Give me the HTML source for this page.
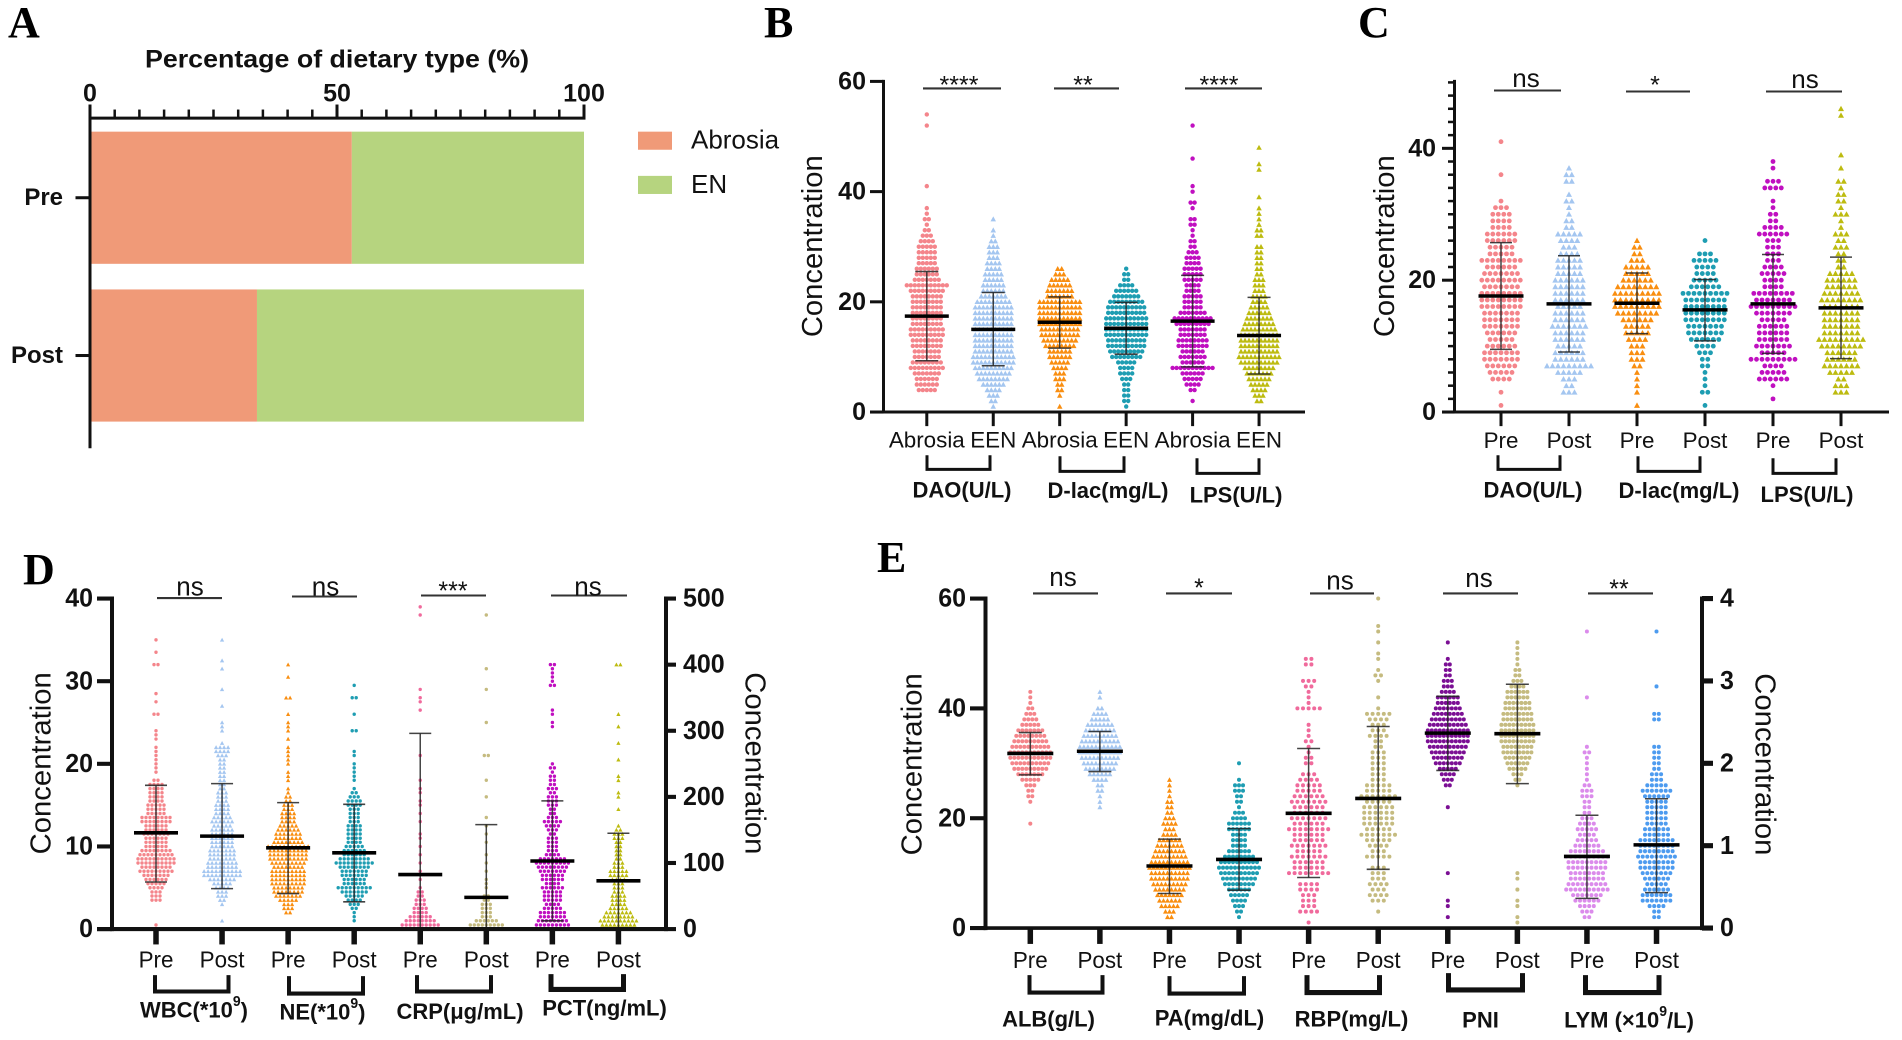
<!DOCTYPE html>
<html lang="en">
<head>
<meta charset="utf-8">
<title>Dietary type and biomarker concentration panels</title>
<style>
html,body{margin:0;padding:0;background:#fff;}
svg{display:block;font-family:"Liberation Sans",Arial,sans-serif;fill:#111;}
.pl{font-family:"Liberation Serif",serif;font-weight:700;font-size:44px;fill:#000;}
.gl{font-weight:700;font-size:22px;text-anchor:middle;dominant-baseline:central;}
.yt{font-size:29px;text-anchor:middle;dominant-baseline:central;}
.ns{font-size:26px;text-anchor:middle;dominant-baseline:central;}
.st{font-size:25px;text-anchor:middle;dominant-baseline:central;}
.br{fill:none;stroke:#111;}
.sb{stroke:#333;stroke-width:2;}
</style>
</head>
<body>
<svg id="figure" xmlns="http://www.w3.org/2000/svg" width="1902" height="1040" viewBox="0 0 1902 1040">
<rect width="1902" height="1040" fill="#fff"/>

<text class="pl" x="8" y="37">A</text>
<text class="pl" x="764" y="37">B</text>
<text class="pl" x="1358" y="37">C</text>
<text class="pl" x="23" y="584">D</text>
<text class="pl" x="877" y="572">E</text>

<g id="top-layer" transform="scale(1 1.005)">
<text x="337" y="59" font-weight="700" font-size="25" text-anchor="middle" dominant-baseline="central" textLength="384" lengthAdjust="spacingAndGlyphs">Percentage of dietary type (%)</text>
<g>
<rect x="638" y="131" width="34" height="18" fill="#F09A78"/>
<text x="691" y="139" font-size="26" dominant-baseline="central">Abrosia</text>
<rect x="638" y="175" width="34" height="18" fill="#B6D47F"/>
<text x="691" y="183" font-size="26" dominant-baseline="central">EN</text>
</g>

<g>
<text class="yt" transform="translate(813,245) rotate(-90)" textLength="181" lengthAdjust="spacingAndGlyphs">Concentration</text>
<line class="sb" x1="923" x2="1001" y1="88" y2="88"/>
<line class="sb" x1="1054" x2="1119" y1="88" y2="88"/>
<line class="sb" x1="1185" x2="1262" y1="88" y2="88"/>
<text class="st" x="959" y="85">****</text>
<text class="st" x="1083" y="85">**</text>
<text class="st" x="1219" y="85">****</text>
<path class="br" stroke-width="3" d="M927 453V467H990V453"/>
<path class="br" stroke-width="3" d="M1060 454V469H1124V454"/>
<path class="br" stroke-width="3" d="M1197 456V471H1259V456"/>
<text class="gl" x="962" y="487.5">DAO(U/L)</text>
<text class="gl" x="1108" y="488" textLength="121" lengthAdjust="spacingAndGlyphs">D-lac(mg/L)</text>
<text class="gl" x="1236" y="492.5">LPS(U/L)</text>
</g>

<g>
<text class="yt" transform="translate(1385,245) rotate(-90)" textLength="181" lengthAdjust="spacingAndGlyphs">Concentration</text>
<line class="sb" x1="1494" x2="1561" y1="90" y2="90"/>
<line class="sb" x1="1626" x2="1690" y1="91" y2="91"/>
<line class="sb" x1="1766" x2="1842" y1="91" y2="91"/>
<text class="ns" x="1526" y="77.5">ns</text>
<text class="st" x="1655" y="85">*</text>
<text class="ns" x="1805" y="78.5">ns</text>
<path class="br" stroke-width="3" d="M1498 453V467H1560V453"/>
<path class="br" stroke-width="3" d="M1638 454V469H1700V454"/>
<path class="br" stroke-width="3" d="M1773 456V471H1836V456"/>
<text class="gl" x="1533" y="487.5">DAO(U/L)</text>
<text class="gl" x="1679" y="488" textLength="121" lengthAdjust="spacingAndGlyphs">D-lac(mg/L)</text>
<text class="gl" x="1807" y="492">LPS(U/L)</text>
</g>
</g>

<g id="bottom-layer" transform="translate(0 530) scale(1 1.0233) translate(0 -530)">
<g>
<text class="yt" font-size="28" transform="translate(41,758) rotate(-90)" textLength="178" lengthAdjust="spacingAndGlyphs">Concentration</text>
<text class="yt" font-size="28" transform="translate(755,758) rotate(90)" textLength="178" lengthAdjust="spacingAndGlyphs">Concentration</text>
<line class="sb" x1="157" x2="222" y1="596.5" y2="596.5"/>
<line class="sb" x1="292" x2="357" y1="595" y2="595"/>
<line class="sb" x1="421" x2="486" y1="594" y2="594"/>
<line class="sb" x1="551" x2="627" y1="594" y2="594"/>
<text class="ns" x="190" y="585">ns</text>
<text class="ns" x="325.5" y="585">ns</text>
<text class="st" x="453" y="590">***</text>
<text class="ns" x="588" y="585">ns</text>
<path class="br" stroke-width="4" d="M155 965V981H228.500V965"/>
<path class="br" stroke-width="4" d="M289 966V983H363V966"/>
<path class="br" stroke-width="4" d="M417 965V981H491V965"/>
<path class="br" stroke-width="5" d="M551 964V979H623.500V964"/>
<text class="gl" x="194" y="999">WBC(*10<tspan font-size="14" dy="-8">9</tspan><tspan dy="8">)</tspan></text>
<text class="gl" x="322.500" y="1001">NE(*10<tspan font-size="14" dy="-8">9</tspan><tspan dy="8">)</tspan></text>
<text class="gl" x="460" y="1000.500">CRP(μg/mL)</text>
<text class="gl" x="604.500" y="997">PCT(ng/mL)</text>
</g>

<g>
<text class="yt" font-size="28" transform="translate(912,759) rotate(-90)" textLength="178" lengthAdjust="spacingAndGlyphs">Concentration</text>
<text class="yt" font-size="28" transform="translate(1765,759) rotate(90)" textLength="178" lengthAdjust="spacingAndGlyphs">Concentration</text>
<line class="sb" x1="1033" x2="1098" y1="592" y2="592"/>
<line class="sb" x1="1166" x2="1232" y1="592" y2="592"/>
<line class="sb" x1="1310" x2="1374" y1="592" y2="592"/>
<line class="sb" x1="1443" x2="1518" y1="592" y2="592"/>
<line class="sb" x1="1588" x2="1653" y1="592" y2="592"/>
<text class="ns" x="1063" y="576">ns</text>
<text class="st" x="1199" y="587">*</text>
<text class="ns" x="1340" y="579.500">ns</text>
<text class="ns" x="1479" y="577">ns</text>
<text class="st" x="1619" y="588">**</text>
<path class="br" stroke-width="4" d="M1029.500 965V982H1102.500V965"/>
<path class="br" stroke-width="4" d="M1169.500 966V983H1244V966"/>
<path class="br" stroke-width="5" d="M1307 965V982H1379.500V965"/>
<path class="br" stroke-width="5" d="M1448.500 963V979.500H1522.500V963"/>
<path class="br" stroke-width="5" d="M1585.500 965V982H1659V965"/>
<text class="gl" x="1048.500" y="1008">ALB(g/L)</text>
<text class="gl" x="1209.500" y="1007">PA(mg/dL)</text>
<text class="gl" x="1351.500" y="1008">RBP(mg/L)</text>
<text class="gl" x="1480.500" y="1009">PNI</text>
<text class="gl" x="1629" y="1009">LYM (×10<tspan font-size="14" dy="-8">9</tspan><tspan dy="8">/L)</tspan></text>
</g>
</g>
</svg>

<script>
/* ---------- Panel A data ---------- */
const aCategories = ['Pre', 'Post'];
const aAbrosia = [53, 33.8];
const aEn = [47, 66.2];
const aTickLabels = [0, 50, 100];
const aMinorTicks = [5, 10, 15, 20, 25, 30, 35, 40, 45, 55, 60, 65, 70, 75, 80, 85, 90, 95];

/* ---------- Panel B data (dot counts per 1-unit level, starting at 0) ---------- */
const bCategories = ['Abrosia', 'EEN', 'Abrosia', 'EEN', 'Abrosia', 'EEN'];
const bMeans = [17.4, 15.0, 16.3, 15.2, 16.5, 13.9];
const bUppers = [25.5, 21.7, 20.9, 19.9, 24.8, 20.8];
const bLowers = [9.3, 8.4, 11.6, 10.5, 8.2, 6.9];
const bTicks = [0, 20, 40, 60];
const bDaoAbrosia = [0,0,0,0,5,6,6,7,9,8,7,7,8,8,9,9,8,8,8,8,8,8,9,11,7,6,6,5,5,5,5,4,3,2,1,2,1,1,0,0,0,1,0,0,0,0,0,0,0,0,0,0,1,0,1];
const bDaoEen = [0,1,2,3,4,6,8,9,10,11,11,10,10,10,10,10,10,10,10,10,9,7,6,6,5,5,4,4,3,3,3,2,1,1,0,1];
const bLacAbrosia = [0,1,0,1,2,2,3,3,4,5,6,6,8,9,10,10,11,11,11,11,11,7,7,6,5,3,2];
const bLacEen = [0,1,2,2,2,2,3,4,4,5,8,9,10,10,11,11,11,11,10,10,9,7,6,4,2,2,1];
const bLpsAbrosia = [0,0,1,0,2,4,5,6,11,6,7,6,8,8,7,7,9,10,7,5,5,5,4,4,5,5,5,4,4,3,2,2,1,1,2,2,0,1,2,0,1,1,0,0,0,0,1,0,0,0,0,0,1];
const bLpsEen = [0,0,2,3,4,5,6,7,8,10,11,10,10,10,10,9,8,7,6,5,4,4,3,3,3,2,2,2,2,2,2,0,2,2,1,1,1,1,0,1,0,0,0,0,1,1,0,0,1];

/* ---------- Panel C data (dot counts per 1-unit level) ---------- */
const cCategories = ['Pre', 'Post', 'Pre', 'Post', 'Pre', 'Post'];
const cMeans = [17.6, 16.4, 16.5, 15.5, 16.4, 15.8];
const cUppers = [25.7, 23.7, 21.1, 20.1, 23.9, 23.5];
const cLowers = [9.5, 9.1, 11.9, 10.8, 8.9, 8.1];
const cTicks = [0, 20, 40];
const cMinorTicks = [2,4,6,8,10,12,14,16,18,22,24,26,28,30,32,34,36,38,42,44,46,48,50];
const cDaoPre = [0,1,0,1,0,4,5,6,7,7,6,5,6,7,7,7,8,8,8,7,8,7,6,8,5,5,6,6,4,4,4,3,1,0,0,0,1,0,0,0,0,1];
const cDaoPost = [0,0,0,3,2,3,5,9,6,6,5,6,6,7,6,6,5,6,6,6,6,5,5,5,4,3,4,5,2,2,1,1,2,1,0,2,2,1];
const cLacPre = [0,1,0,1,1,1,1,2,3,3,3,4,5,5,6,8,9,9,9,8,6,5,5,3,2,2,1];
const cLacPost = [0,1,0,2,1,1,1,2,2,3,4,6,7,7,8,8,8,8,9,6,5,4,4,5,3,0,1];
const cLpsPre = [0,0,1,0,1,6,5,4,9,5,7,6,6,6,5,7,9,7,8,4,4,5,4,3,3,3,3,6,4,2,2,1,1,0,4,3,0,1,1];
const cLpsPost = [0,0,0,3,3,2,5,7,6,6,8,9,7,7,7,7,7,8,7,6,6,5,2,2,2,3,2,3,1,1,3,1,2,2,1,2,0,1,0,1,0,0,0,0,0,1,1];

/* ---------- Panel D data (counts per half-unit level + isolated values) ---------- */
const dCategories = ['Pre', 'Post', 'Pre', 'Post', 'Pre', 'Post', 'Pre', 'Post'];
const dMeans = [11.65, 11.25, 9.84, 9.23, 82.5, 48, 103, 73];
const dUppers = [17.4, 17.6, 15.3, 15.1, 296, 158, 194, 145];
const dLowers = [5.7, 4.9, 4.3, 3.3, 0, 0, 12.5, 0];
const dSides = ['left', 'left', 'left', 'left', 'right', 'right', 'right', 'right'];
const dLeftTicks = [0, 10, 20, 30, 40];
const dRightTicks = [0, 100, 200, 300, 400, 500];
const dWbcPre = [0,1,0,0,0,0,0,3,3,3,4,5,6,7,9,8,10,10,9,8,6,6,6,7,6,6,8,8,5,5,5,4,4,4,4,4,2];
const dWbcPreIsolated = [19,19.5,20,20.5,21,21.5,22,23,23.5,24,25.8,26,27.3,28.3,31.8,32,33.5,35];
const dWbcPost = [0,0,1,0,0,0,1,2,3,3,4,5,7,10,10,8,8,7,7,7,6,6,6,6,6,5,6,5,4,4,4,3,3,3,2,2,2,2,2,2,2,2,3,4,4,1];
const dWbcPostIsolated = [24,24.5,25,27,29,31.5,32.5,35];
const dNePre = [1,0,0,0,2,3,3,5,7,8,8,9,9,9,9,8,9,10,10,10,11,8,7,7,6,5,4,4,4,3,3,2,2,1,1];
const dNePreIsolated = [18,18.5,19,20,20.5,21,21.5,22,23,24,24.5,25,26,28,28,30.5,32];
const dNePost = [0,0,1,1,1,2,3,4,5,7,9,6,6,7,7,8,10,8,6,6,5,4,4,4,4,4,3,3,3,3,4,4,3,2,1];
const dNePostIsolated = [18,18.5,19,19.5,20,21,21.5,24,24.2,26,28,28.2,29.5];
const dCrpPre = [11,10,8,6,4,4,3,3,2,2];
const dCrpPreIsolated = [60,72,85,100,115,125,135,145,160,175,185,195,205,215,228,262,330,345,350,360,475,485];
const dCrpPost = [11,9,6,3,3,3,3,2,2];
const dCrpPostIsolated = [60,70,75,85,100,115,130,145,158,170,200,225,262,265,310,365,395,475];
const dPctPre = [8,9,8,7,7,5,4,5,5,5,6,4,6,6,7,8,9,7,4,3,3,3,3,2,3,4,5,3,2,2,3,3,3,2,3,2,2,2,1,2,1];
const dPctPreIsolated = [306,312,325,330,369,369,375,381,388,394,400,400];
const dPctPost = [8,9,10,8,7,5,4,4,4,3,3,3,4,5,5,3,3,2,2,2,2,2,3,3,2,1];
const dPctPostIsolated = [180,200,207,228,232,258,283,306,324,397,400];

/* ---------- Panel E data (dot counts per level) ---------- */
const eCategories = ['Pre', 'Post', 'Pre', 'Post', 'Pre', 'Post', 'Pre', 'Post', 'Pre', 'Post'];
const eMeans = [31.8, 32.2, 11.3, 12.5, 20.9, 23.6, 35.5, 35.4, 0.87, 1.01];
const eUppers = [35.6, 35.8, 16.2, 18.1, 32.7, 36.7, 42.2, 44.4, 1.37, 1.57];
const eLowers = [27.9, 28.5, 6.3, 6.9, 9.2, 10.7, 28.7, 26.3, 0.36, 0.43];
const eSides = ['left', 'left', 'left', 'left', 'left', 'left', 'left', 'left', 'right', 'right'];
const eLeftTicks = [0, 20, 40, 60];
const eRightTicks = [0, 1, 2, 3, 4];
const eAlbPre = [0,0,0,0,0,0,0,0,0,0,0,0,0,0,0,0,0,0,0,1,0,0,0,1,2,2,3,5,7,9,10,11,11,10,9,8,7,5,4,3,2,1,1,1];
const eAlbPost = [0,0,0,0,0,0,0,0,0,0,0,0,0,0,0,0,0,0,0,0,0,0,1,1,1,2,2,4,6,8,9,10,11,11,10,9,8,7,5,4,2,0,1,1];
const ePaPre = [0,0,2,3,5,6,7,8,9,10,10,11,10,9,8,7,6,4,3,4,3,2,2,2,1,1,1,1];
const ePaPost = [0,0,1,2,3,4,5,6,8,9,10,11,10,8,6,4,4,4,6,6,4,3,1,2,2,3,3,1,0,0,1];
const eRbpPre = [0,1,0,4,3,3,3,4,4,0,8,6,6,7,5,7,6,6,8,6,7,6,6,7,6,5,5,4,3,0,2,2,1,1,2,1,1,1,0,0,5,1,1,1,2,3,0,0,2,2];
const eRbpPost = [0,0,0,1,0,3,4,3,4,3,3,3,0,5,3,4,5,7,5,6,6,6,6,5,7,5,5,3,3,3,3,3,3,2,2,4,3,3,4,5,1,0,1,0,0,1,2,1,0,1,1,0,1,0,1,1,0,0,0,0,1];
const ePniPre = [0,0,1,0,1,1,0,0,0,0,1,0,0,0,0,0,0,0,0,0,0,0,1,0,0,0,2,3,4,5,7,8,9,10,11,11,11,10,9,8,7,6,6,4,3,3,2,2,2,1,0,0,1];
const ePniPost = [0,1,1,0,1,1,0,1,0,1,1,0,0,0,0,0,0,0,0,0,0,0,0,0,0,0,1,2,3,5,6,7,8,8,9,9,9,9,8,8,7,7,6,6,4,3,2,2,1,1,1,1,1];
const eLymPre = [0,0,2,3,4,6,7,10,9,8,8,9,9,10,8,6,5,4,5,4,3,2,2,2,3,3,2,1,1,1,1,1,2,1,0,0,0,0,0,0,0,0,1,0,0,0,0,0,0,0,0,0,0,0,1];
const eLymPost = [0,0,2,2,4,7,7,6,5,6,7,8,8,9,8,8,8,6,6,5,5,5,5,5,6,7,5,3,3,2,2,2,2,2,0,0,0,0,2,2,0,0,0,0,1,0,0,0,0,0,0,0,0,0,1];

/* ---------- Series palettes and markers ---------- */
const SALMON = '#F4858B', SKY = '#A4C6F0', ORANGE = '#F98E10', TEAL = '#1E9DB2', MAGENTA = '#C010C0', OLIVE = '#BDBB10', PINK = '#F06A9C', TAN = '#C5BB80', PURPLE = '#7B0F94', ORCHID = '#DB8BEB', AZURE = '#4D9BEF';
const commonColors = [SALMON, SKY, ORANGE, TEAL, MAGENTA, OLIVE];
const commonMarkers = ['circle', 'triangle', 'triangle', 'circle', 'circle', 'triangle'];

const NS = 'http://www.w3.org/2000/svg';
const topLayer = document.getElementById('top-layer');
const bottomLayer = document.getElementById('bottom-layer');

function make(tag, attrs, parent, text) {
  const el = document.createElementNS(NS, tag);
  for (const k in attrs) el.setAttribute(k, attrs[k]);
  if (text !== undefined) el.textContent = text;
  parent.appendChild(el);
  return el;
}
function linearScale(d0, r0, d1, r1) {
  return function (v) { return r0 + (v - d0) * (r1 - r0) / (d1 - d0); };
}

/* ---------- Panel A ---------- */
function drawPanelA() {
  const g = make('g', {}, topLayer);
  
  
  const x = linearScale(0, 90, 100, 584);
  const barTop = [131, 288];
  const barHeight = 131.5;
  aCategories.forEach(function (cat, i) {
    const a = make('rect', { x: x(0), y: barTop[i], width: x(aAbrosia[i]) - x(0), height: barHeight, fill: '#F09A78' }, g);
    
    
    const e = make('rect', { x: x(aAbrosia[i]), y: barTop[i], width: x(aAbrosia[i] + aEn[i]) - x(aAbrosia[i]), height: barHeight, fill: '#B6D47F' }, g);
    
    
    const cy = barTop[i] + barHeight / 2;
    const t = make('line', { x1: 75.5, x2: 90, y1: cy, y2: cy, stroke: '#111', 'stroke-width': 3 }, g);
    
    
    const l = make('text', { x: 63, y: cy, 'text-anchor': 'end', 'dominant-baseline': 'central', 'font-size': 24, 'font-weight': 700 }, g, cat);
    
    
  });
  const topAxis = make('line', { x1: 88.5, x2: 585.5, y1: 117.5, y2: 117.5, stroke: '#111', 'stroke-width': 3 }, g);
  
  
  const leftAxis = make('line', { x1: 90, x2: 90, y1: 104, y2: 446, stroke: '#111', 'stroke-width': 3 }, g);
  
  
  aMinorTicks.forEach(function (v) {
    const t = make('line', { x1: x(v), x2: x(v), y1: 109, y2: 117, stroke: '#111', 'stroke-width': 2.5 }, g);
    
    
  });
  aTickLabels.forEach(function (v) {
    const t = make('line', { x1: x(v), x2: x(v), y1: 104, y2: 117, stroke: '#111', 'stroke-width': 3 }, g);
    
    
    const l = make('text', { x: x(v), y: 93, 'text-anchor': 'middle', 'dominant-baseline': 'central', 'font-size': 25, 'font-weight': 700 }, g, v);
    
    
  });
}

/* ---------- Swarm groups ---------- */
function drawGroup(g, cx, y, counts, step, isolated, color, marker, spacing, radius) {
  const rows = counts.slice();
  isolated.forEach(function (v) {
    const r = Math.round(v / step);
    rows[r] = (rows[r] || 0) + 1;
  });
  rows.forEach(function (n, r) {
    if (!n) return;
    const py = y(r * step);
    for (let k = 0; k < n; k++) {
      const px = cx + (k - (n - 1) / 2) * spacing;
      let el;
      if (marker === 'circle') {
        el = make('circle', { cx: px.toFixed(1), cy: py.toFixed(1), r: radius, fill: color }, g);
      } else {
        const s = radius * 1.25;
        el = make('polygon', {
          points: px.toFixed(1) + ',' + (py - s).toFixed(1) + ' ' + (px + s).toFixed(1) + ',' + (py + s * 0.8).toFixed(1) + ' ' + (px - s).toFixed(1) + ',' + (py + s * 0.8).toFixed(1),
          fill: color
        }, g);
      }
      
      
    }
  });
}

function drawError(g, cx, y, mean, upper, lower, meanHalf, capHalf) {
  const stem = make('line', { x1: cx, x2: cx, y1: y(upper), y2: y(lower), stroke: '#222', 'stroke-width': 1.5, 'stroke-opacity': 0.85 }, g);
  
  
  [upper, lower].forEach(function (v) {
    const cap = make('line', { x1: cx - capHalf, x2: cx + capHalf, y1: y(v), y2: y(v), stroke: '#222', 'stroke-width': 1.5, 'stroke-opacity': 0.85 }, g);
    
    
  });
  const m = make('line', { x1: cx - meanHalf, x2: cx + meanHalf, y1: y(mean), y2: y(mean), stroke: '#000', 'stroke-width': 3.5 }, g);
  
  
}

function yAxisLabels(g, ticks, y, axisX, dir, tickLen, labelX, width) {
  ticks.forEach(function (v) {
    const t = make('line', { x1: axisX, x2: axisX + dir * tickLen, y1: y(v), y2: y(v), stroke: '#111', 'stroke-width': width }, g);
    
    
    const l = make('text', { x: labelX, y: y(v), 'text-anchor': dir < 0 ? 'end' : 'start', 'dominant-baseline': 'central', 'font-size': 25, 'font-weight': 700 }, g, v);
    
    
  });
}

function xCategoryAxis(g, cats, xPos, baseY, tickEnd, labelY, width) {
  cats.forEach(function (c, i) {
    const t = make('line', { x1: xPos(i), x2: xPos(i), y1: baseY, y2: tickEnd, stroke: '#111', 'stroke-width': width }, g);
    
    
    const l = make('text', { x: xPos(i), y: labelY, 'text-anchor': 'middle', 'dominant-baseline': 'central', 'font-size': 22.4 }, g, c);
    
    
  });
}

function axisLine(g, x1, y1, x2, y2, width) {
  const a = make('line', { x1: x1, y1: y1, x2: x2, y2: y2, stroke: '#111', 'stroke-width': width }, g);
  
  
}

/* ---------- Panel B ---------- */
function drawPanelB() {
  const g = make('g', {}, topLayer);
  
  
  const y = linearScale(0, 410, 60, 81);
  const x = function (i) { return 926.8 + i * 66.45; };
  const series = [bDaoAbrosia, bDaoEen, bLacAbrosia, bLacEen, bLpsAbrosia, bLpsEen];
  series.forEach(function (s, i) {
    drawGroup(g, x(i), y, s, 1, [], commonColors[i], commonMarkers[i], 4, 2.2);
  });
  series.forEach(function (s, i) {
    drawError(g, x(i), y, bMeans[i], bUppers[i], bLowers[i], 22, 11.5);
  });
  axisLine(g, 883.5, 79.5, 883.5, 411.5, 3);
  axisLine(g, 870, 410, 1305, 410, 3);
  yAxisLabels(g, bTicks, y, 883.5, -1, 13.5, 866, 3);
  xCategoryAxis(g, bCategories, x, 410, 424, 438, 3);
}

/* ---------- Panel C ---------- */
function drawPanelC() {
  const g = make('g', {}, topLayer);
  
  
  const y = linearScale(0, 410, 40, 147.6);
  const x = function (i) { return 1501 + i * 68; };
  const series = [cDaoPre, cDaoPost, cLacPre, cLacPost, cLpsPre, cLpsPost];
  series.forEach(function (s, i) {
    drawGroup(g, x(i), y, s, 1, [], commonColors[i], commonMarkers[i], 5.5, 2.4);
  });
  series.forEach(function (s, i) {
    drawError(g, x(i), y, cMeans[i], cUppers[i], cLowers[i], 22.5, 11);
  });
  axisLine(g, 1454.5, 79.5, 1454.5, 411.5, 3);
  axisLine(g, 1442, 410, 1889, 410, 3);
  cMinorTicks.forEach(function (v) {
    const t = make('line', { x1: 1454.5, x2: 1448, y1: y(v), y2: y(v), stroke: '#111', 'stroke-width': 2.5 }, g);
    
    
  });
  yAxisLabels(g, cTicks, y, 1454.5, -1, 12.5, 1436, 3);
  xCategoryAxis(g, cCategories, x, 410, 424, 438.5, 3);
}

/* ---------- Panel D ---------- */
function drawPanelD() {
  const g = make('g', {}, bottomLayer);
  
  
  const yL = linearScale(0, 920, 40, 597);
  const yR = linearScale(0, 920, 500, 597);
  const x = function (i) { return 156 + i * 66.06; };
  const colors = [SALMON, SKY, ORANGE, TEAL, PINK, TAN, MAGENTA, OLIVE];
  const markers = ['circle', 'triangle', 'triangle', 'circle', 'circle', 'circle', 'circle', 'triangle'];
  const series = [dWbcPre, dWbcPost, dNePre, dNePost, dCrpPre, dCrpPost, dPctPre, dPctPost];
  const isolated = [dWbcPreIsolated, dWbcPostIsolated, dNePreIsolated, dNePostIsolated, dCrpPreIsolated, dCrpPostIsolated, dPctPreIsolated, dPctPostIsolated];
  const yOf = function (i) { return dSides[i] === 'right' ? yR : yL; };
  series.forEach(function (s, i) {
    const step = dSides[i] === 'right' ? 6.25 : 0.5;
    drawGroup(g, x(i), yOf(i), s, step, isolated[i], colors[i], markers[i], 4, 1.7);
  });
  series.forEach(function (s, i) {
    drawError(g, x(i), yOf(i), dMeans[i], dUppers[i], dLowers[i], 22, 11);
  });
  axisLine(g, 112, 595, 112, 922, 4);
  axisLine(g, 666, 595, 666, 922, 4);
  axisLine(g, 97, 920, 666, 920, 4);
  yAxisLabels(g, dLeftTicks, yL, 112, -1, 15, 93, 4);
  yAxisLabels(g, dRightTicks, yR, 666, 1, 10, 683, 4);
  xCategoryAxis(g, dCategories, x, 920, 935, 949.5, 5.5);
}

/* ---------- Panel E ---------- */
function drawPanelE() {
  const g = make('g', {}, bottomLayer);
  
  
  const yL = linearScale(0, 919, 60, 597);
  const yR = linearScale(0, 919, 4, 597);
  const x = function (i) { return 1030.3 + i * 69.58; };
  const colors = [SALMON, SKY, ORANGE, TEAL, PINK, TAN, PURPLE, TAN, ORCHID, AZURE];
  const markers = ['circle', 'triangle', 'triangle', 'circle', 'circle', 'circle', 'circle', 'circle', 'circle', 'circle'];
  const spacings = [4, 4, 4, 4, 5.6, 5.6, 4, 4, 4.6, 4.6];
  const series = [eAlbPre, eAlbPost, ePaPre, ePaPost, eRbpPre, eRbpPost, ePniPre, ePniPost, eLymPre, eLymPost];
  const yOf = function (i) { return eSides[i] === 'right' ? yR : yL; };
  series.forEach(function (s, i) {
    const step = eSides[i] === 'right' ? 1 / 15 : 1;
    drawGroup(g, x(i), yOf(i), s, step, [], colors[i], markers[i], spacings[i], 2);
  });
  series.forEach(function (s, i) {
    drawError(g, x(i), yOf(i), eMeans[i], eUppers[i], eLowers[i], 23, 11.5);
  });
  axisLine(g, 985.5, 595, 985.5, 921, 4);
  axisLine(g, 1702, 595, 1702, 921, 4);
  axisLine(g, 970, 919, 1702, 919, 3.5);
  yAxisLabels(g, eLeftTicks, yL, 985.5, -1, 15.5, 966, 4);
  yAxisLabels(g, eRightTicks, yR, 1702, 1, 11, 1720, 5);
  xCategoryAxis(g, eCategories, x, 919, 934.5, 950, 5.5);
}

drawPanelA();
drawPanelB();
drawPanelC();
drawPanelD();
drawPanelE();
</script>
</body>
</html>
